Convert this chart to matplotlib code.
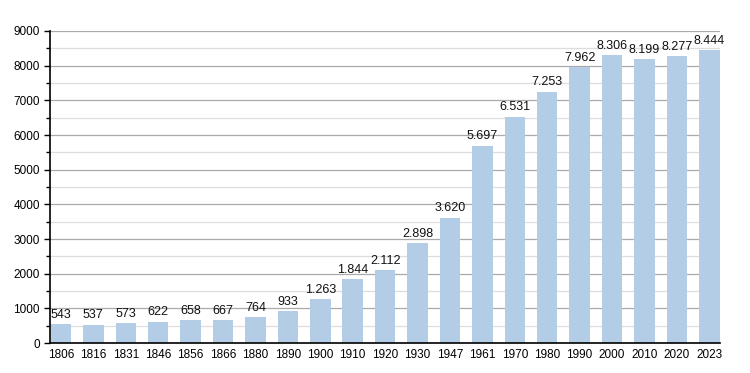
import matplotlib.pyplot as plt
from matplotlib.ticker import MultipleLocator

# Population by census year
years = ['1806', '1816', '1831', '1846', '1856', '1866', '1880', '1890', '1900', '1910', '1920',
         '1930', '1947', '1961', '1970', '1980', '1990', '2000', '2010', '2020', '2023']
population = [543, 537, 573, 622, 658, 667, 764, 933, 1263, 1844, 2112,
              2898, 3620, 5697, 6531, 7253, 7962, 8306, 8199, 8277, 8444]
labels = ['543', '537', '573', '622', '658', '667', '764', '933', '1.263', '1.844', '2.112',
          '2.898', '3.620', '5.697', '6.531', '7.253', '7.962', '8.306', '8.199', '8.277', '8.444']

plt.rcParams['font.family'] = ['Liberation Sans', 'DejaVu Sans']

fig = plt.figure(figsize=(7.5, 3.73), dpi=100)
ax = fig.add_axes([0.067, 0.080, 0.893, 0.837])

x = range(len(years))
bars = ax.bar(x, population, width=0.63, color='#b3cde6', zorder=2)
for xi, v, lab in zip(x, population, labels):
    ax.text(xi, v + 90, lab, ha='center', va='bottom', fontsize=9, color='#111111', zorder=3)

ax.set_xlim(-0.33, len(years) - 0.67)
ax.set_ylim(0, 9000)
ax.set_xticks(list(x))
ax.set_xticklabels(years, fontsize=8.5)
ax.yaxis.set_major_locator(MultipleLocator(1000))
ax.yaxis.set_minor_locator(MultipleLocator(500))
ax.tick_params(axis='y', labelsize=8.5, length=4, width=1)
ax.tick_params(axis='y', which='minor', length=3, width=1)
ax.tick_params(axis='x', length=0, pad=4)
ax.grid(axis='y', which='major', color='#aaaaaa', linewidth=0.9, zorder=1)
ax.grid(axis='y', which='minor', color='#dddddd', linewidth=0.9, zorder=1)
for s in ['top', 'right']:
    ax.spines[s].set_visible(False)
ax.spines['left'].set_linewidth(1.2)
ax.spines['bottom'].set_linewidth(1.2)

plt.savefig('out.png', dpi=100)
